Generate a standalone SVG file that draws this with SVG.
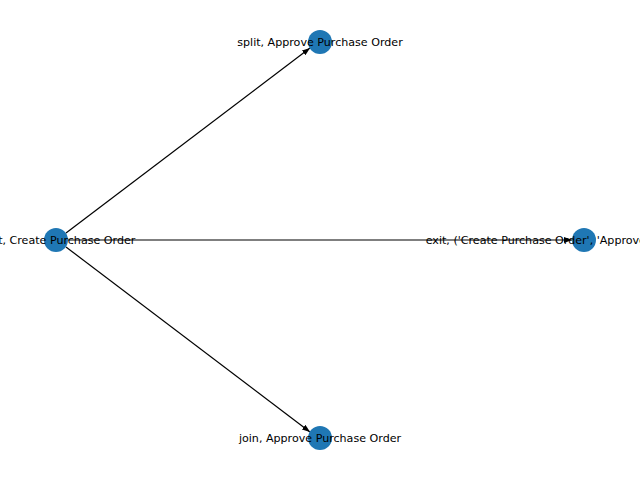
<svg xmlns="http://www.w3.org/2000/svg" width="640" height="480" viewBox="0 0 640 480">
<style>
.n{fill:#1f77b4}
.e{stroke:#000;stroke-width:1.2;fill:none}
.t{font-family:"DejaVu Sans",sans-serif;font-size:11.1px;fill:#000;text-anchor:middle;dominant-baseline:central}
</style>
<defs>
<marker id="a" viewBox="0 0 8 6" refX="8" refY="3" markerWidth="8" markerHeight="6" markerUnits="userSpaceOnUse" orient="auto">
<path d="M0,0 L8,3 L0,6 Z" fill="#000"/>
</marker>
</defs>
<rect width="640" height="480" fill="#fff"/>
<g id="edges">
<path class="e" d="M66,233 L310,48" marker-end="url(#a)"/>
<path class="e" d="M68,240 L572,240" marker-end="url(#a)"/>
<path class="e" d="M66,247 L310,432" marker-end="url(#a)"/>
</g>
<g id="n0"><circle class="n" cx="56" cy="240" r="12"/><text class="t" x="56" y="240">start, Create Purchase Order</text></g>
<g id="n1"><circle class="n" cx="320" cy="42" r="12"/><text class="t" x="320" y="42">split, Approve Purchase Order</text></g>
<g id="n2"><circle class="n" cx="584" cy="240" r="12"/><text class="t" x="584" y="240">exit, ('Create Purchase Order', 'Approve Purchase Order')</text></g>
<g id="n3"><circle class="n" cx="320" cy="438" r="12"/><text class="t" x="320" y="438">join, Approve Purchase Order</text></g>
</svg>
